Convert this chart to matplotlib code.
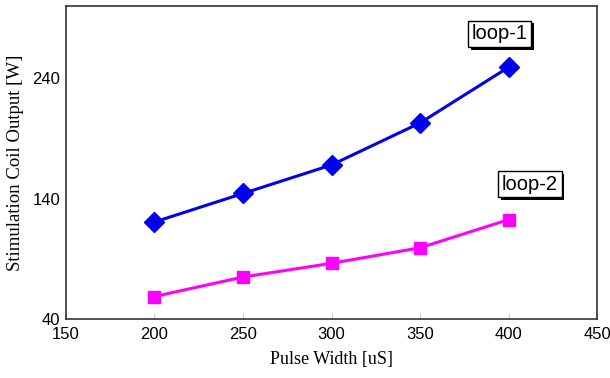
import matplotlib.pyplot as plt
from matplotlib import patheffects

pulse_width = [200, 250, 300, 350, 400]
loop1 = [120.6, 144.3, 168, 202.9, 249.2]
loop2 = [58.7, 74.9, 86.3, 99.2, 122.6]
x_ticks = [150, 200, 250, 300, 350, 400, 450]
y_ticks = [40, 140, 240]

fig = plt.figure(figsize=(6.1, 3.78), dpi=100)
ax = fig.add_axes([0.108, 0.156, 0.871, 0.828])

ax.plot(pulse_width, loop1, color='#0000ee', lw=2.2, marker='D', markersize=10)
ax.plot(pulse_width, loop2, color='#ff00ff', lw=2.2, marker='s', markersize=8.5)

ax.set_xlim(150, 450)
ax.set_ylim(40, 300)
ax.set_xticks(x_ticks)
ax.set_yticks(y_ticks)
ax.tick_params(axis='x', direction='in', length=4, color='#cccccc', pad=6)
ax.tick_params(axis='y', length=0, pad=4)
for lbl in ax.get_xticklabels() + ax.get_yticklabels():
    lbl.set_family('Liberation Sans')
    lbl.set_fontsize(12)
for s in ax.spines.values():
    s.set_color('#333333')
    s.set_linewidth(1.2)

ax.set_xlabel('Pulse Width [uS]', family='Liberation Serif', fontsize=13, labelpad=6)
ax.set_ylabel('Stimulation Coil Output [W]', family='Liberation Serif', fontsize=13.5, labelpad=6)

# boxed labels with a drop shadow on the box
def boxed_label(x, y, txt):
    t = ax.text(x, y, txt, ha='center', va='center', fontsize=14.5, family='Liberation Sans',
                bbox=dict(boxstyle='square,pad=0.18', fc='white', ec='black', lw=1))
    t.get_bbox_patch().set_path_effects([
        patheffects.SimplePatchShadow(offset=(2, -2), shadow_rgbFace='black', alpha=1),
        patheffects.Normal()])

boxed_label(395, 277, 'loop-1')
boxed_label(412, 152, 'loop-2')

fig.savefig('out.png', dpi=100)
